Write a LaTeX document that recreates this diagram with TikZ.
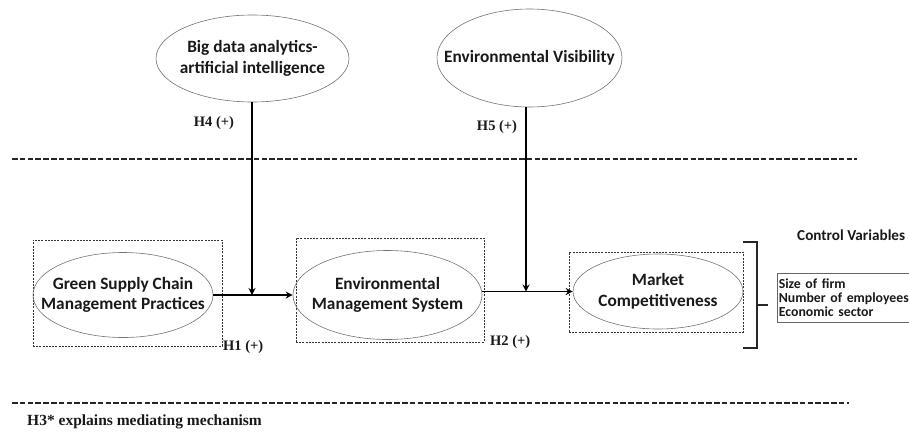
\documentclass[tikz,border=0pt]{standalone}
\usepackage{fontspec}
\setmainfont{Liberation Serif}
\newfontfamily\carl{Carlito}
\usetikzlibrary{shapes.geometric,arrows.meta}
\tikzset{
  ell/.style={ellipse, draw=black!55, line width=0.6pt, inner sep=0pt},
  etext/.style={align=center, inner sep=0pt,
     font=\carl\bfseries\fontsize{17.3}{20.5}\selectfont, text=black!90},
  dbox/.style={draw=black!80, dash pattern=on 2pt off 1.2pt, line width=0.7pt, inner sep=0pt},
  hlab/.style={font=\bfseries\fontsize{14.5}{16}\selectfont, inner sep=0pt, text=black!90},
  arr/.style={line width=1.5pt, -{Stealth[length=7pt,width=7pt]}},
  bigdash/.style={line width=1.6pt, dash pattern=on 5.5pt off 2.3pt, black!85},
}
\begin{document}
\begin{tikzpicture}[x=1pt,y=-1pt]
\useasboundingbox (0,0) rectangle (909,431);
% top ellipses
\node[ell, minimum width=193pt, minimum height=87pt] (bd) at (252.5,58.5) {};
\node[etext] (bdt) at (bd.center) {Big data analytics-\\artificial intelligence};
\node[ell, minimum width=185pt, minimum height=98pt] (ev) at (529.5,58) {};
\node[etext] (evt) at (ev.center) {Environmental Visibility};
% dashed separators
\coordinate (t1) at (12,159); \coordinate (t2) at (857,159);
\coordinate (b1) at (12,403); \coordinate (b2) at (849,403);
\draw[bigdash] (t1) -- (t2);
\draw[bigdash] (b1) -- (b2);
% dashed boxes
\node[dbox, minimum width=189pt, minimum height=106pt] (box1) at (127.5,293) {};
\node[dbox, minimum width=188pt, minimum height=104pt] (box2) at (390,290) {};
\node[dbox, minimum width=174pt, minimum height=80pt] (box3) at (656,292) {};
% main ellipses
\node[ell, minimum width=180pt, minimum height=85pt] (gscm) at (123,295) {};
\node[etext] (gscmt) at (gscm.center) {Green Supply Chain\\Management Practices};
\node[ell, minimum width=189pt, minimum height=89pt] (ems) at (387.5,295) {};
\node[etext] (emst) at (ems.center) {Environmental\\Management System};
\node[ell, minimum width=170pt, minimum height=75pt] (mc) at (658,291.5) {};
\node[etext] (mct) at (mc.center) {Market\\Competitiveness};
% horizontal arrows
\draw[arr] (gscm.east) -- (ems.west);
\draw[arr] (ems.east |- mc.west) -- (mc.west);
% moderator arrows
\coordinate (j1) at (252,295);
\coordinate (j2) at (526,291.5);
\draw[arr] (bd.south -| j1) -- (j1);
\draw[arr] (ev.south -| j2) -- (j2);
% labels
\node[hlab] (h4) at (214,123) {H4 (+)};
\node[hlab] (h5) at (497,127) {H5 (+)};
\node[hlab, anchor=west] (h1) at (223,347) {H1 (+)};
\node[hlab, anchor=west] (h2) at (490,342) {H2 (+)};
\node[font=\bfseries\fontsize{15.5}{17}\selectfont, inner sep=0pt, text=black!90, anchor=west] (h3) at (27,422) {H3* explains mediating mechanism};
% bracket
\coordinate (k1) at (743,242); \coordinate (k2) at (757,242);
\coordinate (k3) at (757,348); \coordinate (k4) at (743,348);
\coordinate (m1) at (757,305); \coordinate (m2) at (768,305);
\draw[line width=1.4pt, black!85] (k1) -- (k2) -- (k3) -- (k4);
\draw[line width=1.4pt, black!85] (m1) -- (m2);
% control variables
\node[font=\carl\bfseries\fontsize{15.2}{17}\selectfont, anchor=west, inner sep=0pt, text=black!90] (cvt) at (797,235) {Control Variables};
\node[draw=black!60, line width=0.6pt, anchor=north west, align=left, inner xsep=1.5pt, inner ysep=3pt,
      text width=150pt, minimum height=49pt,
      font=\carl\bfseries\fontsize{13.8}{13.8}\selectfont, text=black!90] (cv) at (777,273)
      {Size of firm\\Number of employees\\Economic sector};
\end{tikzpicture}
\end{document}
